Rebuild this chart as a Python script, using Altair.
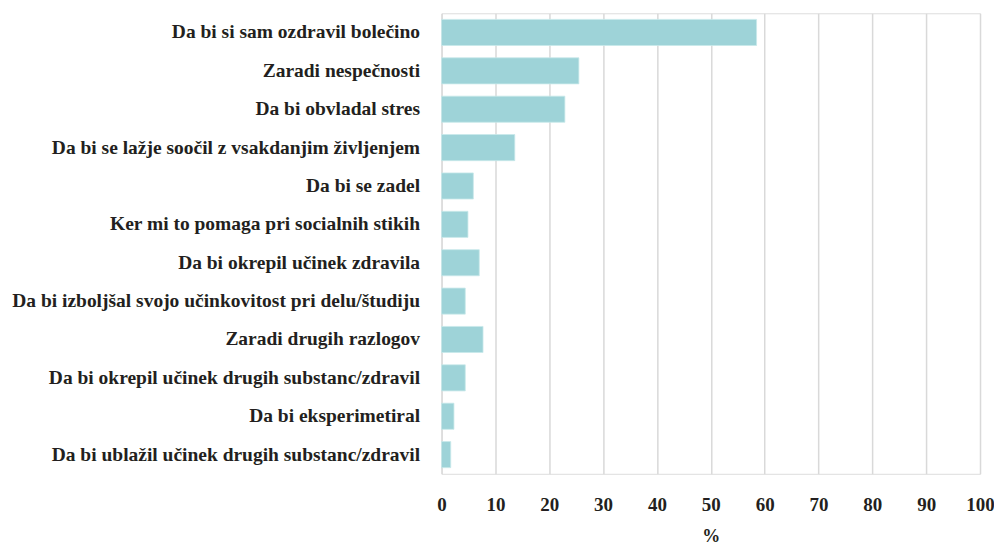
import altair as alt
import pandas as pd

categories = [
    "Da bi si sam ozdravil bolečino",
    "Zaradi nespečnosti",
    "Da bi obvladal stres",
    "Da bi se lažje soočil z vsakdanjim življenjem",
    "Da bi se zadel",
    "Ker mi to pomaga pri socialnih stikih",
    "Da bi okrepil učinek zdravila",
    "Da bi izboljšal svojo učinkovitost pri delu/študiju",
    "Zaradi drugih razlogov",
    "Da bi okrepil učinek drugih substanc/zdravil",
    "Da bi eksperimetiral",
    "Da bi ublažil učinek drugih substanc/zdravil",
]
values = [58.5, 25.5, 22.9, 13.6, 5.9, 4.9, 7.0, 4.4, 7.7, 4.4, 2.3, 1.7]
x_ticks = [0, 10, 20, 30, 40, 50, 60, 70, 80, 90, 100]

df = pd.DataFrame({"reason": categories, "pct": values})

FONT = "Liberation Serif"
TEXT = "#231f20"

chart = (
    alt.Chart(df)
    .mark_bar(color="#9ed3d8", stroke="#c8e8ea", strokeWidth=0.8)
    .encode(
        x=alt.X(
            "pct:Q",
            scale=alt.Scale(domain=[0, 100], nice=False, zero=True),
            axis=alt.Axis(
                values=x_ticks,
                title="%",
                grid=True,
                gridColor="#d9d9d9",
                gridWidth=1.5,
                domain=False,
                ticks=False,
                labelFlush=False,
                labelPadding=22,
                labelFontSize=19,
                labelFontWeight="bold",
                labelFont=FONT,
                labelColor=TEXT,
                titleFont=FONT,
                titleFontSize=18,
                titleFontWeight="bold",
                titleColor=TEXT,
                titlePadding=13,
            ),
        ),
        y=alt.Y(
            "reason:N",
            sort=categories,
            scale=alt.Scale(paddingInner=0.32, paddingOuter=0.16),
            axis=alt.Axis(
                title=None,
                domain=False,
                ticks=False,
                grid=False,
                labelPadding=22,
                labelFontSize=19.5,
                labelFontWeight="bold",
                labelFont=FONT,
                labelColor=TEXT,
                labelLimit=500,
            ),
        ),
    )
    .properties(
        width=539,
        height=461,
        autosize=alt.AutoSizeParams(type="none"),
        padding={"left": 434, "top": 5, "right": 14, "bottom": 80},
    )
    .configure_view(strokeWidth=0, stroke="transparent")
    .configure(background="white")
)

chart.save("out.html", embed_options={"renderer": "svg", "actions": False})
